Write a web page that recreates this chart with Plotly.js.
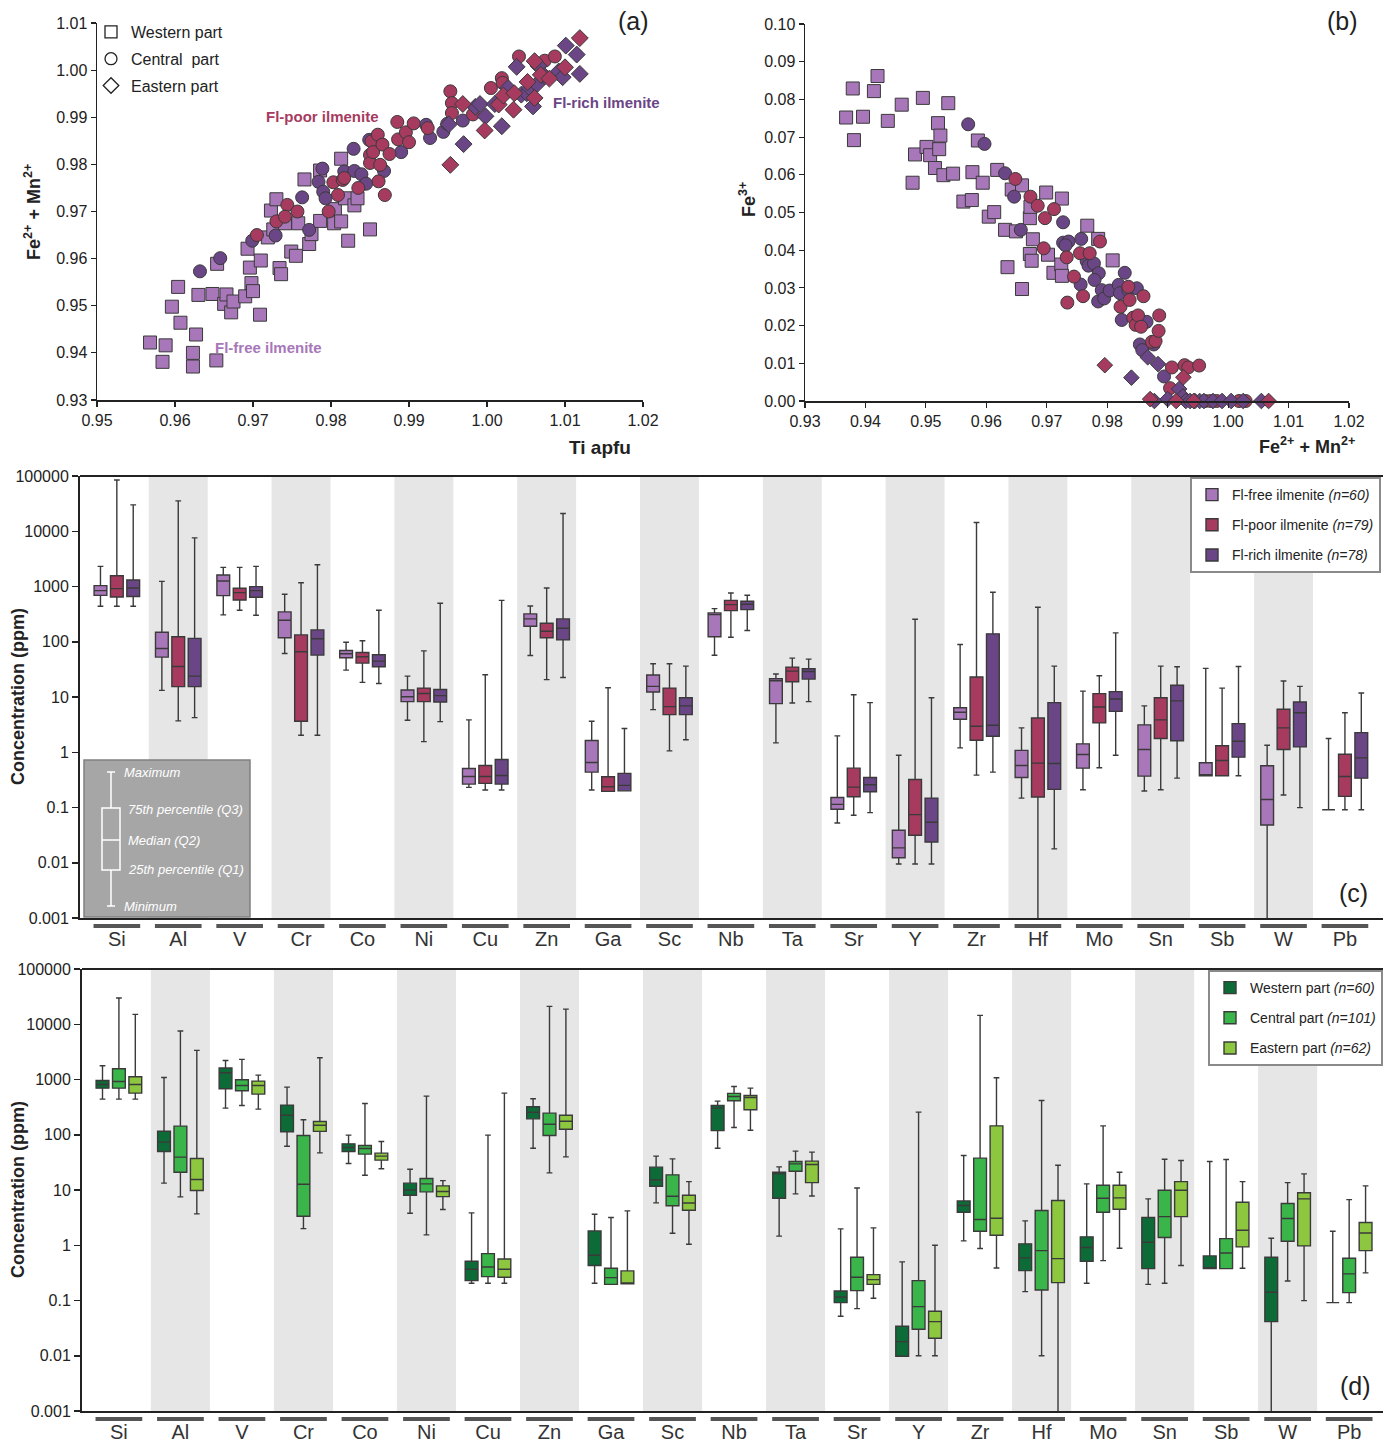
<!DOCTYPE html>
<html>
<head>
<meta charset="utf-8">
<script src="https://cdn.plot.ly/plotly-3.0.1.min.js"></script>
<style>
  html, body { margin: 0; padding: 0; background: #fff; }
  #chart { width: 1383px; height: 1446px; }
</style>
</head>
<body>
<div id="chart"></div>
<script>
// ---------- (a) Ti apfu vs Fe2+ + Mn2+ ----------
const aWestFreeTi = [0.9568,0.9588,0.9584,0.9596,0.9604,0.9607,0.9623,0.9623,0.9627,0.9630,0.9648,0.9653,0.9654,0.9663,0.9666,0.9672,0.9675,0.9690,0.9693,0.9696,0.9698,0.9700,0.9709,0.9710,0.9719,0.9723,0.9726,0.9730,0.9734,0.9736,0.9741,0.9749,0.9755,0.9758,0.9766,0.9772,0.9775,0.9786,0.9786,0.9805,0.9804,0.9813,0.9813,0.9818,0.9822,0.9830,0.9834,0.9850];
const aWestFreeFe = [0.9422,0.9416,0.9381,0.9498,0.9540,0.9464,0.9400,0.9371,0.9439,0.9523,0.9525,0.9384,0.9589,0.9504,0.9524,0.9486,0.9509,0.9520,0.9621,0.9581,0.9548,0.9531,0.9481,0.9596,0.9645,0.9702,0.9662,0.9726,0.9580,0.9567,0.9675,0.9615,0.9606,0.9675,0.9768,0.9631,0.9652,0.9680,0.9787,0.9705,0.9675,0.9812,0.9679,0.9728,0.9638,0.9713,0.9728,0.9662];

const aCentRichTi = [0.9632,0.9658,0.9699,0.9729,0.9763,0.9772,0.9784,0.9790,0.9789,0.9793,0.9817,0.9829,0.9830,0.9839,0.9845,0.9849,0.9868,0.9890,0.9922,0.9927,0.9944,0.9969,0.9949];
const aCentRichFe = [0.9573,0.9601,0.9638,0.9649,0.9730,0.9661,0.9763,0.9742,0.9791,0.9728,0.9785,0.9833,0.9786,0.9779,0.9759,0.9852,0.9786,0.9826,0.9884,0.9856,0.9869,0.9893,0.9886];

const aCentPoorTi = [0.9705,0.9730,0.9744,0.9741,0.9757,0.9797,0.9803,0.9809,0.9815,0.9817,0.9835,0.9850,0.9850,0.9852,0.9854,0.9860,0.9861,0.9863,0.9866,0.9869,0.9875,0.9885,0.9886,0.9896,0.9900,0.9906,0.9924,0.9953,0.9955,0.9955,0.9982,1.0005,1.0019,1.0041,1.0020,1.0074,1.0087];
const aCentPoorFe = [0.9650,0.9679,0.9714,0.9689,0.9700,0.9700,0.9762,0.9735,0.9767,0.9771,0.9750,0.9820,0.9803,0.9849,0.9826,0.9863,0.9764,0.9799,0.9842,0.9735,0.9822,0.9890,0.9853,0.9868,0.9847,0.9887,0.9877,0.9955,0.9930,0.9909,0.9906,0.9962,0.9983,1.0029,0.9973,1.0020,1.0029];

const aEastPoorTi = [0.9953,0.9969,0.9997,1.0015,1.0021,1.0034,1.0035,1.0052,1.0061,1.0061,1.0069,1.0080,1.0100,1.0119];
const aEastPoorFe = [0.9799,0.9928,0.9872,0.9927,0.9946,0.9916,0.9951,0.9975,0.9941,1.0019,0.9990,0.9982,1.0006,1.0068];

const aEastRichTi = [0.9951,0.9970,0.9985,0.9991,0.9998,1.0010,1.0019,1.0027,1.0038,1.0044,1.0051,1.0055,1.0059,1.0064,1.0066,1.0074,1.0092,1.0097,1.0101,1.0115,1.0119];
const aEastRichFe = [0.9885,0.9843,0.9922,0.9928,0.9902,0.9928,0.9881,0.9962,1.0007,0.9948,0.9951,0.9962,0.9923,0.9970,1.0009,0.9987,0.9997,0.9985,1.0052,1.0033,0.9992];

// ---------- (b) Fe2+ + Mn2+ vs Fe3+ ----------
const bWestFreeFe = [0.9368,0.9379,0.9381,0.9396,0.9414,0.9420,0.9437,0.9460,0.9478,0.9482,0.9495,0.9501,0.9507,0.9515,0.9520,0.9522,0.9524,0.9529,0.9537,0.9545,0.9562,0.9576,0.9577,0.9586,0.9594,0.9604,0.9613,0.9618,0.9631,0.9635,0.9642,0.9649,0.9659,0.9659,0.9672,0.9672,0.9673,0.9675,0.9677,0.9699,0.9702,0.9711,0.9724,0.9725,0.9725,0.9767,0.9785,0.9809];
const bWestFreeFe3 = [0.0752,0.0829,0.0692,0.0754,0.0822,0.0862,0.0743,0.0786,0.0579,0.0654,0.0804,0.0674,0.0652,0.0618,0.0737,0.0668,0.0704,0.0599,0.0790,0.0603,0.0529,0.0533,0.0607,0.0691,0.0579,0.0489,0.0501,0.0613,0.0454,0.0355,0.0561,0.0450,0.0572,0.0297,0.0390,0.0485,0.0515,0.0372,0.0429,0.0553,0.0388,0.0340,0.0362,0.0537,0.0332,0.0465,0.0430,0.0373];

const bCentRichFe = [0.9570,0.9597,0.9631,0.9646,0.9657,0.9727,0.9727,0.9736,0.9731,0.9757,0.9756,0.9766,0.9769,0.9778,0.9786,0.9779,0.9785,0.9791,0.9795,0.9804,0.9819,0.9821,0.9824,0.9829,0.9835,0.9849,0.9854,0.9858,0.9865,0.9877,0.9894];
const bCentRichFe3 = [0.0734,0.0682,0.0604,0.0542,0.0454,0.0474,0.0420,0.0423,0.0413,0.0430,0.0309,0.0371,0.0359,0.0365,0.0339,0.0321,0.0264,0.0294,0.0272,0.0293,0.0308,0.0286,0.0215,0.0340,0.0294,0.0299,0.0150,0.0135,0.0210,0.0150,0.0065];

const bCentPoorFe = [0.9648,0.9673,0.9685,0.9697,0.9712,0.9695,0.9733,0.9734,0.9745,0.9755,0.9760,0.9771,0.9788,0.9822,0.9835,0.9837,0.9843,0.9847,0.9851,0.9856,0.9860,0.9874,0.9880,0.9885,0.9886,0.9907,0.9904,0.9928,0.9934,0.9952,0.9962,0.9971,0.9981,1.0018,1.0029];
const bCentPoorFe3 = [0.0589,0.0542,0.0518,0.0485,0.0509,0.0405,0.0381,0.0261,0.0330,0.0392,0.0278,0.0392,0.0423,0.0250,0.0303,0.0268,0.0221,0.0202,0.0227,0.0197,0.0278,0.0157,0.0159,0.0186,0.0227,0.0089,0.0034,0.0095,0.0089,0.0094,0,0,0,0,0];

const bEastPoorFe = [0.9796,0.9926,0.9871,0.9914,0.9943,1.0067];
const bEastPoorFe3 = [0.0095,0.0063,0.0005,0,0,0];

const bEastRichFe = [0.9840,0.9867,0.9884,0.9878,0.9900,0.9919,0.9925,0.9930,0.9937,0.9945,0.9953,0.9960,0.9975,0.9990,1.0005,1.0025,1.0055];
const bEastRichFe3 = [0.0062,0.0116,0.0098,0,0.0005,0.0032,0.0012,0,0,0,0,0,0,0,0,0,0];

// ---------- (c), (d) trace-element concentrations (ppm) ----------
const elements = ['Si','Al','V','Cr','Co','Ni','Cu','Zn','Ga','Sc','Nb','Ta','Sr','Y','Zr','Hf','Mo','Sn','Sb','W','Pb'];

// Fl-free ilmenite (n=60)
const freeMin = [439,13.2,306,61.4,30.7,3.79,0.231,56.5,0.207,5.9,57,1.48,0.0525,0.0095,1.2,0.148,0.21,0.199,0.375,0.0005,0.091];
const freeQ1  = [692,52.7,683,118,51.3,8.24,0.265,191,0.437,12.3,123,7.6,0.0927,0.0123,3.95,0.35,0.516,0.37,0.375,0.0483,0.091];
const freeMed = [841,75.5,1257,245,60.5,10.1,0.365,259,0.653,15.6,310,19.7,0.114,0.0186,5.3,0.577,0.91,1.12,0.375,0.14,0.091];
const freeQ3  = [1035,149,1613,347,69.5,13.4,0.509,319,1.63,25,333,21.4,0.152,0.0387,6.4,1.08,1.42,3.13,0.644,0.569,0.091];
const freeMax = [2310,1240,2220,722,98,23.9,3.85,445,3.64,40,398,26,1.98,0.885,89,2.76,12.8,6.9,32.9,1.34,1.77];

// Fl-poor ilmenite (n=79)
const poorMin = [439,3.69,372,2.03,18.4,1.56,0.207,20.6,0.196,1.06,121,7.8,0.0723,0.0095,0.386,0.0005,0.524,0.21,0.375,0.168,0.091];
const poorQ1  = [646,15.4,570,3.64,41.1,8.24,0.273,118,0.196,4.8,366,18.9,0.157,0.0315,1.65,0.155,3.4,1.77,0.375,1.12,0.159];
const poorMed = [914,35.7,774,65.8,53.4,11.6,0.365,155,0.238,6.7,470,29.4,0.234,0.0743,2.96,0.635,6.6,3.85,0.71,2.76,0.365];
const poorQ3  = [1567,123,927,133,64,14.5,0.577,216,0.36,14.5,562,34.8,0.516,0.322,23,4.18,11.5,9.7,1.31,6.0,0.92];
const poorMax = [84700,35400,2220,1172,104,68.5,25.3,940,14.7,40,764,50.6,11,255,14400,421,24.3,36.2,14.5,19.5,5.2];

// Fl-rich ilmenite (n=78)
const richMin = [439,4.24,302,2.03,17.6,3.59,0.207,22.6,0.2,1.68,160,8.24,0.0807,0.0095,0.437,0.0178,0.885,0.34,0.375,0.0993,0.091];
const richQ1  = [660,15.4,638,57.3,35.3,8.13,0.265,108,0.2,4.8,382,21.1,0.193,0.0238,1.95,0.213,5.5,1.61,0.815,1.25,0.34];
const richMed = [940,23.9,841,113,44.6,10.6,0.38,176,0.251,6.9,476,29,0.258,0.054,3.08,0.627,9.2,8.5,1.58,5.2,0.79];
const richQ3  = [1310,115,993,164,58.1,13.7,0.74,259,0.414,9.7,540,32.4,0.35,0.148,139,7.9,12.5,16.3,3.3,8.13,2.27];
const richMax = [30000,7600,2310,2477,371,497,562,20900,2.69,36.2,693,48.5,7.9,9.7,785,36.2,145,35.3,35.7,15.6,11.8];

// Western part (n=60)
const westMin = [441,13.3,303,62,30.2,3.8,0.205,57.1,0.205,5.85,57,1.46,0.0518,0.0098,1.2,0.145,0.205,0.196,0.378,0.0005,0.0914];
const westQ1  = [698,49.8,679,113,49.8,8.05,0.229,194,0.429,11.7,119,7.1,0.0914,0.0098,3.96,0.348,0.513,0.378,0.378,0.0414,0.0914];
const westMed = [814,73.5,1325,226,58.7,10,0.367,256,0.659,15.3,303,19.6,0.116,0.018,5.24,0.59,0.908,1.13,0.378,0.141,0.0914];
const westQ3  = [962,116,1610,344,68.5,13.3,0.513,321,1.82,25.9,339,21,0.149,0.0341,6.35,1.06,1.42,3.17,0.641,0.607,0.0914];
const westMax = [1774,1089,2214,728,98.4,23.8,3.85,448,3.65,41,406,26.2,1.98,0.5,42,2.76,12.9,6.9,32.8,1.34,1.79];

// Central part (n=101)
const centMin = [441,7.5,339,2.0,18.5,1.54,0.205,20.4,0.196,1.65,135,8.5,0.0713,0.01,0.871,0.01,0.527,0.205,0.378,0.226,0.0914];
const centQ1  = [698,21,625,3.35,44.6,9.25,0.27,97,0.196,5.2,412,21.9,0.151,0.0301,1.79,0.155,3.96,1.38,0.378,1.18,0.139];
const centMed = [922,39.3,781,12.7,56.4,12.9,0.405,155,0.259,7.7,493,29.7,0.263,0.0774,2.92,0.8,7.1,3.3,0.726,3.04,0.303];
const centQ3  = [1564,143,988,97,64,16.1,0.706,246,0.383,18.8,560,32.8,0.607,0.229,37.7,4.25,12.2,9.9,1.32,5.7,0.581];
const centMax = [29800,7530,2310,187,368,500,98.4,21100,3.17,36.6,748,50.5,10.9,257,14500,418,145,36.1,35.6,13.6,6.7];

// Eastern part (n=62)
const eastMin = [441,3.7,291,47,24.2,4.43,0.205,39.8,0.2,1.04,121,7.8,0.11,0.01,0.388,0.0005,0.883,0.429,0.383,0.0995,0.316];
const eastQ1  = [567,9.8,544,115,34.7,7.6,0.263,126,0.2,4.3,283,13.6,0.196,0.0207,1.52,0.211,4.49,3.3,0.933,0.973,0.8];
const eastMed = [814,15.5,781,149,41,9.4,0.367,176,0.2,5.8,473,28.9,0.239,0.0414,3.08,0.573,7.2,9.9,1.87,6.9,1.67];
const eastQ3  = [1122,37.2,935,174,46.4,11.9,0.565,226,0.343,8.05,514,33.3,0.294,0.0637,145,6.44,12.2,14.2,6.0,8.9,2.58];
const eastMax = [15100,3365,1202,2477,75.5,14.8,567,18800,4.19,14.2,698,48.4,2.06,1.0,1074,28.1,21,34.2,14.2,19.6,11.9];

const logTicks = [0.001,0.01,0.1,1,10,100,1000,10000,100000];
const logTickText = ['0.001','0.01','0.1','1','10','100','1000','10000','100000'];

// ---------- styling ----------
const W = 1383, H = 1446;
const fx = p => p / W;
const fy = p => 1 - p / H;
const FONT = 'Liberation Sans, Arial, sans-serif';
const C_FREE = '#a877b9', C_POOR = '#a63b5f', C_RICH = '#6b4686';
const C_WEST = '#0d6b38', C_CENT = '#3ab54a', C_EAST = '#8dc63f';

function scat(x, y, sym, color, xa, ya, size) {
  return {
    type: 'scatter', mode: 'markers', x: x, y: y, xaxis: xa, yaxis: ya,
    showlegend: false, cliponaxis: false, hoverinfo: 'x+y',
    marker: { symbol: sym, size: size, color: color, line: { color: '#3a3a3a', width: 1 } }
  };
}

function box(name, color, mn, q1, md, q3, mx, xa, ya, legend, grp, slot) {
  return {
    type: 'box', name: name, x: elements, lowerfence: mn, q1: q1, median: md, q3: q3, upperfence: mx,
    xaxis: xa, yaxis: ya, legend: legend, legendgroup: grp, offsetgroup: slot,
    fillcolor: color, boxpoints: false, whiskerwidth: 0.45,
    line: { color: '#3a3a3a', width: 1.4 }
  };
}

function legendMark(name, sym, grp) {
  return {
    type: 'scatter', mode: 'markers', x: [null], y: [null], xaxis: 'x', yaxis: 'y',
    name: name, legend: 'legend3', legendgroup: grp, showlegend: true,
    marker: { symbol: sym, size: 12, color: '#222', line: { color: '#222', width: 1.3 } }
  };
}

const traces = [
  scat(aWestFreeTi, aWestFreeFe, 'square', C_FREE, 'x', 'y', 13),
  scat(aCentRichTi, aCentRichFe, 'circle', C_RICH, 'x', 'y', 13),
  scat(aCentPoorTi, aCentPoorFe, 'circle', C_POOR, 'x', 'y', 13),
  scat(aEastRichTi, aEastRichFe, 'diamond', C_RICH, 'x', 'y', 13),
  scat(aEastPoorTi, aEastPoorFe, 'diamond', C_POOR, 'x', 'y', 13),

  scat(bWestFreeFe, bWestFreeFe3, 'square', C_FREE, 'x2', 'y2', 13),
  scat(bCentRichFe, bCentRichFe3, 'circle', C_RICH, 'x2', 'y2', 13),
  scat(bCentPoorFe, bCentPoorFe3, 'circle', C_POOR, 'x2', 'y2', 13),
  scat(bEastRichFe, bEastRichFe3, 'diamond', C_RICH, 'x2', 'y2', 12),
  scat(bEastPoorFe, bEastPoorFe3, 'diamond', C_POOR, 'x2', 'y2', 12),

  legendMark('Western part', 'square-open', 'm1'),
  legendMark('Central  part', 'circle-open', 'm2'),
  legendMark('Eastern part', 'diamond-open', 'm3'),

  box('Fl-free ilmenite <i>(n=60)</i>', C_FREE, freeMin, freeQ1, freeMed, freeQ3, freeMax, 'x3', 'y3', 'legend', 'c1', 's1'),
  box('Fl-poor ilmenite <i>(n=79)</i>', C_POOR, poorMin, poorQ1, poorMed, poorQ3, poorMax, 'x3', 'y3', 'legend', 'c2', 's2'),
  box('Fl-rich ilmenite <i>(n=78)</i>', C_RICH, richMin, richQ1, richMed, richQ3, richMax, 'x3', 'y3', 'legend', 'c3', 's3'),

  box('Western part <i>(n=60)</i>', C_WEST, westMin, westQ1, westMed, westQ3, westMax, 'x4', 'y4', 'legend2', 'd1', 's1'),
  box('Central part <i>(n=101)</i>', C_CENT, centMin, centQ1, centMed, centQ3, centMax, 'x4', 'y4', 'legend2', 'd2', 's2'),
  box('Eastern part <i>(n=62)</i>', C_EAST, eastMin, eastQ1, eastMed, eastQ3, eastMax, 'x4', 'y4', 'legend2', 'd3', 's3')
];

// ---------- shapes: shaded element columns, label underlines, top frame lines, inset key ----------
const shapes = [];
[['x3', 'y3', 926], ['x4', 'y4', 1419]].forEach(([xa, ya, ubar]) => {
  elements.forEach((el, i) => {
    if (i % 2 === 1) {
      shapes.push({ type: 'rect', xref: xa, yref: ya + ' domain', x0: i - 0.48, x1: i + 0.48, y0: 0, y1: 1,
        fillcolor: '#e6e6e6', line: { width: 0 }, layer: 'below' });
    }
    shapes.push({ type: 'line', xref: xa, yref: 'paper', x0: i - 0.38, x1: i + 0.38, y0: fy(ubar), y1: fy(ubar),
      line: { color: '#555', width: 4 } });
  });
});
shapes.push({ type: 'line', xref: 'paper', yref: 'paper', x0: fx(80), x1: 1, y0: fy(476), y1: fy(476), line: { color: '#222', width: 2 } });
shapes.push({ type: 'line', xref: 'paper', yref: 'paper', x0: fx(82), x1: 1, y0: fy(969), y1: fy(969), line: { color: '#222', width: 2 } });

// inset key explaining the box symbols
shapes.push({ type: 'rect', xref: 'paper', yref: 'paper', x0: fx(84), x1: fx(250), y0: fy(917), y1: fy(760),
  fillcolor: '#a6a6a6', line: { color: '#808080', width: 1.5 } });
const kw = { color: '#fff', width: 1.5 };
shapes.push({ type: 'rect', xref: 'paper', yref: 'paper', x0: fx(102), x1: fx(120), y0: fy(870), y1: fy(808), line: kw });
shapes.push({ type: 'line', xref: 'paper', yref: 'paper', x0: fx(102), x1: fx(120), y0: fy(840), y1: fy(840), line: kw });
shapes.push({ type: 'line', xref: 'paper', yref: 'paper', x0: fx(111), x1: fx(111), y0: fy(808), y1: fy(772), line: kw });
shapes.push({ type: 'line', xref: 'paper', yref: 'paper', x0: fx(111), x1: fx(111), y0: fy(870), y1: fy(906), line: kw });
shapes.push({ type: 'line', xref: 'paper', yref: 'paper', x0: fx(107), x1: fx(115), y0: fy(772), y1: fy(772), line: kw });
shapes.push({ type: 'line', xref: 'paper', yref: 'paper', x0: fx(107), x1: fx(115), y0: fy(906), y1: fy(906), line: kw });

// ---------- annotations ----------
function note(text, x, y, opts) {
  return Object.assign({ xref: 'paper', yref: 'paper', x: fx(x), y: fy(y), text: text, showarrow: false,
    xanchor: 'center', yanchor: 'middle', font: { family: FONT, size: 16, color: '#222' } }, opts || {});
}
const keyFont = { family: FONT, size: 13, color: '#fff' };
const titleFont = { family: FONT, size: 18, color: '#222' };
const annotations = [
  note('(a)', 633, 21, { font: { family: FONT, size: 25, color: '#222' } }),
  note('(b)', 1342, 21, { font: { family: FONT, size: 25, color: '#222' } }),
  note('(c)', 1353, 893, { font: { family: FONT, size: 25, color: '#222' } }),
  note('(d)', 1355, 1386, { font: { family: FONT, size: 25, color: '#222' } }),

  note('<b>Fe<sup>2+</sup> + Mn<sup>2+</sup></b>', 32, 212, { textangle: -90, font: titleFont }),
  note('<b>Ti apfu</b>', 600, 447, { font: { family: FONT, size: 19, color: '#222' } }),
  note('<b>Fe<sup>3+</sup></b>', 748, 200, { textangle: -90, font: titleFont }),
  note('<b>Fe<sup>2+</sup> + Mn<sup>2+</sup></b>', 1307, 445, { font: titleFont }),
  note('<b>Concentration (ppm)</b>', 18, 697, { textangle: -90, font: titleFont }),
  note('<b>Concentration (ppm)</b>', 18, 1190, { textangle: -90, font: titleFont }),

  note('<b>Fl-poor ilmenite</b>', 322, 116, { font: { family: FONT, size: 15, color: C_POOR } }),
  note('<b>Fl-rich ilmenite</b>', 606, 103, { font: { family: FONT, size: 15, color: C_RICH } }),
  note('<b>Fl-free ilmenite</b>', 268, 347, { font: { family: FONT, size: 15, color: C_FREE } }),

  note('<i>Maximum</i>', 122, 772, { xanchor: 'left', font: keyFont }),
  note('<i>75th percentile (Q3)</i>', 126, 809, { xanchor: 'left', font: keyFont }),
  note('<i>Median (Q2)</i>', 126, 840, { xanchor: 'left', font: keyFont }),
  note('<i>25th percentile (Q1)</i>', 126, 869, { xanchor: 'left', font: keyFont }),
  note('<i>Minimum</i>', 122, 906, { xanchor: 'left', font: keyFont })
];

// ---------- axes ----------
const tickFont = { family: FONT, size: 16, color: '#222' };
function linAxis(domain, range, dtick, anchor) {
  return { domain: domain, range: range, dtick: dtick, tick0: range[0], tickformat: '.2f', anchor: anchor,
    showgrid: false, zeroline: false, showline: true, linecolor: '#222', linewidth: 1.5,
    ticks: 'outside', ticklen: 5, tickcolor: '#222', tickwidth: 1.2, tickfont: tickFont, fixedrange: true };
}
function logAxis(domain, anchor) {
  return { domain: domain, type: 'log', range: [-3, 5], anchor: anchor, tickvals: logTicks, ticktext: logTickText,
    showgrid: false, zeroline: false, showline: true, linecolor: '#222', linewidth: 2,
    ticks: 'outside', ticklen: 6, tickcolor: '#222', tickwidth: 1.5, tickfont: tickFont, fixedrange: true };
}
function catAxis(domain, range, anchor) {
  return { domain: domain, type: 'category', categoryorder: 'array', categoryarray: elements, range: range, anchor: anchor,
    showgrid: false, zeroline: false, showline: true, linecolor: '#222', linewidth: 2,
    ticks: 'outside', ticklen: 2, tickcolor: 'rgba(0,0,0,0)', tickfont: { family: FONT, size: 20, color: '#333' }, fixedrange: true };
}

const legendBase = {
  font: { family: FONT, size: 14, color: '#222' }, bgcolor: '#fff', bordercolor: '#8a8a8a', borderwidth: 2,
  xanchor: 'left', yanchor: 'top', traceorder: 'grouped', tracegroupgap: 9, itemclick: false, itemdoubleclick: false
};

const layout = {
  width: W, height: H, autosize: false,
  margin: { l: 0, r: 0, t: 0, b: 0, pad: 0 },
  paper_bgcolor: '#fff', plot_bgcolor: 'rgba(0,0,0,0)',
  font: { family: FONT, color: '#222' },
  boxmode: 'group', boxgap: 0.2, boxgroupgap: 0.22,
  hovermode: 'closest',
  xaxis: linAxis([fx(97), fx(643)], [0.95, 1.02], 0.01, 'y'),
  yaxis: linAxis([fy(400), fy(23)], [0.93, 1.01], 0.01, 'x'),
  xaxis2: linAxis([fx(805), fx(1349)], [0.93, 1.02], 0.01, 'y2'),
  yaxis2: linAxis([fy(401), fy(24)], [0, 0.10], 0.01, 'x2'),
  xaxis3: catAxis([fx(80), 1], [-0.6, 20.62], 'y3'),
  yaxis3: logAxis([fy(918), fy(476)], 'x3'),
  xaxis4: catAxis([fx(82), 1], [-0.6, 20.55], 'y4'),
  yaxis4: logAxis([fy(1411), fy(969)], 'x4'),
  legend: Object.assign({}, legendBase, { x: fx(1190), y: fy(477) }),
  legend2: Object.assign({}, legendBase, { x: fx(1208), y: fy(970) }),
  legend3: { x: fx(91), y: fy(15), xanchor: 'left', yanchor: 'top', bgcolor: 'rgba(0,0,0,0)', borderwidth: 0,
    font: { family: FONT, size: 16, color: '#222' }, traceorder: 'grouped', tracegroupgap: 3,
    itemclick: false, itemdoubleclick: false },
  shapes: shapes,
  annotations: annotations
};

Plotly.newPlot('chart', traces, layout, { staticPlot: true, displayModeBar: false });
</script>
</body>
</html>
